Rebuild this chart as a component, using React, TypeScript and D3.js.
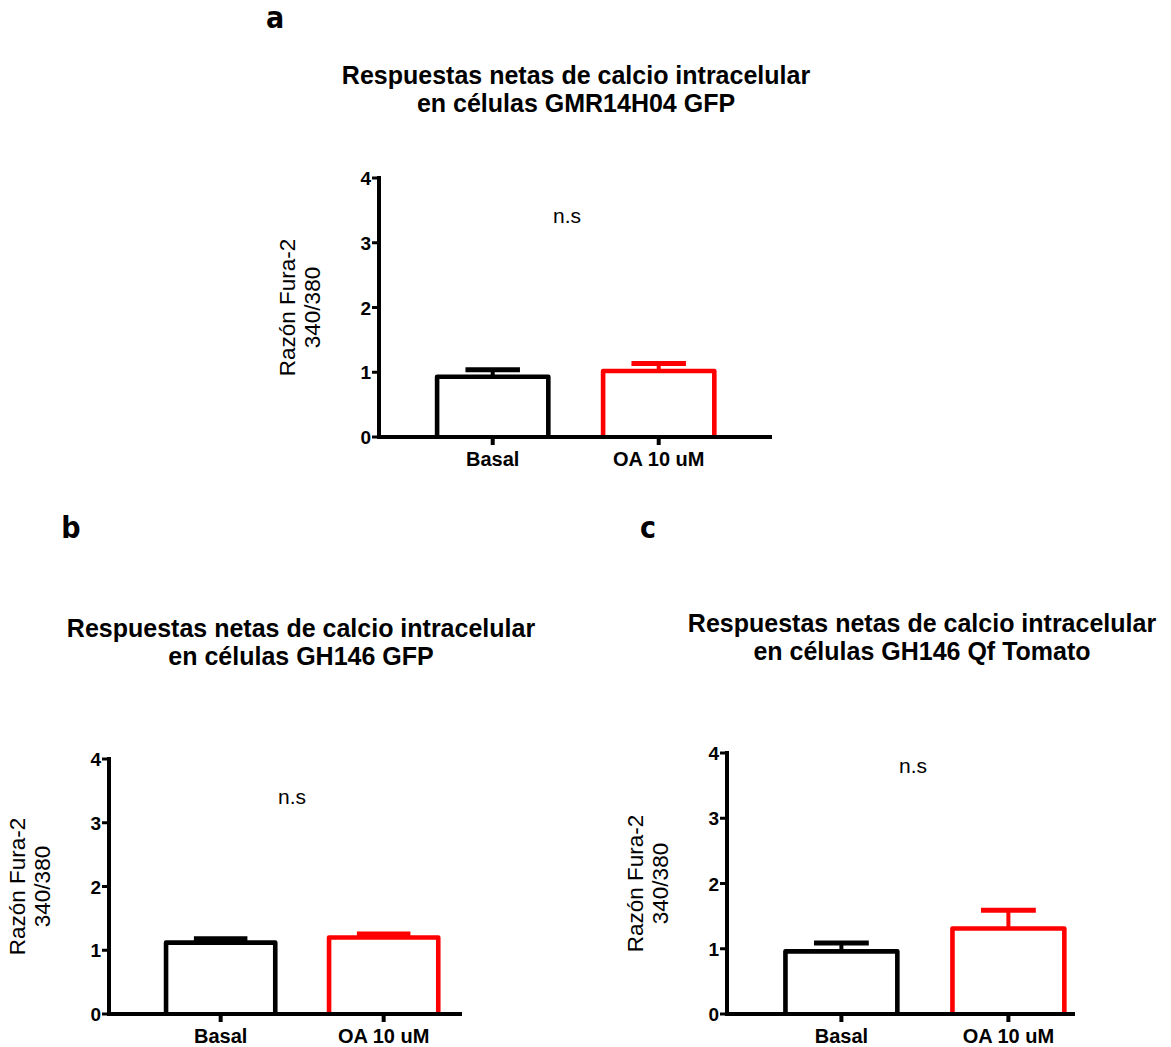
import React from 'react';
import * as d3 from 'd3';

// categories and series
const categories = ['Basal', 'OA 10 uM'];
const barColors = ['#000000', '#ff0000'];
const yTicks = [0, 1, 2, 3, 4];
const yLabelLines = ['Razón Fura-2', '340/380'];
const annotation = 'n.s';

const panelLetters = ['a', 'b', 'c'];
const titleLine1 = [
  'Respuestas netas de calcio intracelular',
  'Respuestas netas de calcio intracelular',
  'Respuestas netas de calcio intracelular',
];
const titleLine2 = [
  'en células GMR14H04 GFP',
  'en células GH146 GFP',
  'en células GH146 Qf Tomato',
];

// mean and SEM per panel (Basal, OA 10 uM)
const meansA = [0.93, 1.02];
const semA = [0.11, 0.115];
const meansB = [1.12, 1.2];
const semB = [0.06, 0.055];
const meansC = [0.96, 1.31];
const semC = [0.13, 0.28];

const panelMeans = [meansA, meansB, meansC];
const panelSem = [semA, semB, semC];

// where each panel sits on the page
const layouts = [
  { x0: 379, xEnd: 772, step: 166, yTop: 178, yBottom: 437, titleX: 576, titleY: 84, letterX: 275, letterY: 28, nsX: 567, nsY: 223 },
  { x0: 109, xEnd: 462, step: 163, yTop: 759, yBottom: 1014, titleX: 301, titleY: 637, letterX: 71, letterY: 538, nsX: 292, nsY: 804 },
  { x0: 727, xEnd: 1075, step: 167, yTop: 753, yBottom: 1014, titleX: 922, titleY: 632, letterX: 648, letterY: 538, nsX: 913, nsY: 773 },
];

const FONT = '"Liberation Sans", Arial, sans-serif';
const LETTER_FONT = '"DejaVu Sans Condensed", "DejaVu Sans", sans-serif';

type Layout = typeof layouts[number];

const Panel = ({ i, lay }: { i: number; lay: Layout }) => {
  const means = panelMeans[i];
  const sem = panelSem[i];

  const x = d3
    .scaleBand<string>()
    .domain(categories)
    .range([lay.x0, lay.x0 + lay.step * 2.37])
    .paddingInner(0.33)
    .paddingOuter(0.35);

  const y = d3.scaleLinear().domain([0, 4]).range([lay.yBottom, lay.yTop]);
  const bw = x.bandwidth();
  const capW = bw * 0.49;
  const yMid = (lay.yTop + lay.yBottom) / 2;

  return (
    <g>
      <text
        x={lay.letterX}
        y={lay.letterY}
        textAnchor="middle"
        fontFamily={LETTER_FONT}
        fontStretch="condensed"
        fontWeight={700}
        fontSize={30}
      >
        {panelLetters[i]}
      </text>
      <text x={lay.titleX} y={lay.titleY} textAnchor="middle" fontFamily={FONT} fontWeight={700} fontSize={25}>
        {titleLine1[i]}
      </text>
      <text x={lay.titleX} y={lay.titleY + 28} textAnchor="middle" fontFamily={FONT} fontWeight={700} fontSize={25}>
        {titleLine2[i]}
      </text>

      {/* bars with error bars */}
      {categories.map((c, j) => {
        const bx = x(c)!;
        const top = y(means[j]);
        const cx = bx + bw / 2;
        const errTop = y(means[j] + sem[j]);
        return (
          <g key={c} stroke={barColors[j]} fill="none">
            <line x1={cx} x2={cx} y1={top} y2={errTop} strokeWidth={4} />
            <line x1={cx - capW / 2} x2={cx + capW / 2} y1={errTop} y2={errTop} strokeWidth={5} />
            <path
              d={`M${bx},${y(0)}V${top}H${bx + bw}V${y(0)}`}
              fill="#fff"
              strokeWidth={4.6}
              strokeLinejoin="round"
            />
          </g>
        );
      })}

      {/* y axis */}
      <line x1={lay.x0} x2={lay.x0} y1={y(4)} y2={y(0)} stroke="#000" strokeWidth={4} strokeLinecap="square" />
      {yTicks.map((t) => (
        <g key={t}>
          <line x1={lay.x0 - 7} x2={lay.x0} y1={y(t)} y2={y(t)} stroke="#000" strokeWidth={3} />
          <text x={lay.x0 - 8} y={y(t) + 7} textAnchor="end" fontFamily={FONT} fontWeight={700} fontSize={19}>
            {t}
          </text>
        </g>
      ))}

      {/* x axis */}
      <line x1={lay.x0} x2={lay.xEnd} y1={y(0)} y2={y(0)} stroke="#000" strokeWidth={4} />
      {categories.map((c) => {
        const cx = x(c)! + bw / 2;
        return (
          <g key={c}>
            <line x1={cx} x2={cx} y1={y(0)} y2={y(0) + 8} stroke="#000" strokeWidth={4} />
            <text x={cx} y={y(0) + 29} textAnchor="middle" fontFamily={FONT} fontWeight={700} fontSize={20}>
              {c}
            </text>
          </g>
        );
      })}

      {/* y label */}
      <text
        transform={`translate(${lay.x0 - 84},${yMid}) rotate(-90)`}
        textAnchor="middle"
        fontFamily={FONT}
        fontSize={22.5}
      >
        {yLabelLines[0]}
      </text>
      <text
        transform={`translate(${lay.x0 - 59},${yMid}) rotate(-90)`}
        textAnchor="middle"
        fontFamily={FONT}
        fontSize={22.5}
      >
        {yLabelLines[1]}
      </text>

      <text x={lay.nsX} y={lay.nsY} textAnchor="middle" fontFamily={FONT} fontSize={21}>
        {annotation}
      </text>
    </g>
  );
};

export default function App() {
  return (
    <svg
      width={1171}
      height={1047}
      style={{ position: 'absolute', left: 0, top: 0, background: '#fff' }}
    >
      {layouts.map((lay, i) => (
        <Panel key={i} i={i} lay={lay} />
      ))}
    </svg>
  );
}
